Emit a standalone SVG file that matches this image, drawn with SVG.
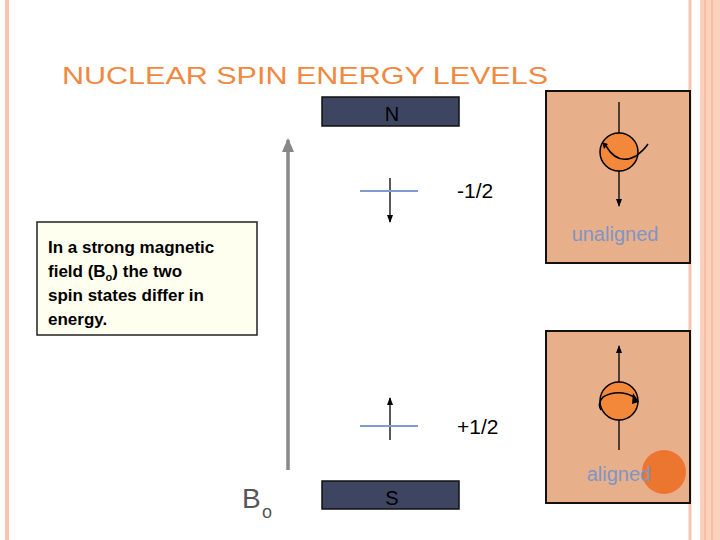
<svg xmlns="http://www.w3.org/2000/svg" width="720" height="540" viewBox="0 0 720 540">
<defs>
<marker id="ah" markerWidth="8" markerHeight="8" refX="7" refY="4" orient="auto" markerUnits="userSpaceOnUse"><path d="M0,1 L8,4 L0,7 Z" fill="#000"/></marker>
<marker id="ahg" markerWidth="14" markerHeight="14" refX="12" refY="7" orient="auto" markerUnits="userSpaceOnUse"><path d="M0,1 L14,7 L0,13 Z" fill="#888"/></marker>
</defs>
<style>
.f{font-family:"Liberation Sans",Arial,sans-serif}
.lvl{stroke:#7f9bd0;stroke-width:2}
.ar{stroke:#000;stroke-width:1.3;marker-end:url(#ah)}
.panel{fill:#e8b08a;stroke:#111;stroke-width:2}
.bar{fill:#3d4560;stroke:#111;stroke-width:1.5}
</style>
<rect width="720" height="540" fill="#fff"/>
<line x1="7" y1="0" x2="7" y2="540" stroke="#f9c3ad" stroke-width="4"/>
<line x1="690" y1="0" x2="690" y2="540" stroke="#f9c3ad" stroke-width="3"/>
<rect x="700" y="0" width="20" height="540" fill="#fbd0bd"/>
<line x1="705" y1="0" x2="705" y2="540" stroke="#f6a88a" stroke-width="1"/>
<line x1="712" y1="0" x2="712" y2="540" stroke="#f6a88a" stroke-width="1"/>
<text class="f" x="62" y="84" font-size="24" fill="#f0893f" textLength="486" lengthAdjust="spacingAndGlyphs">NUCLEAR SPIN ENERGY LEVELS</text>
<g id="connectors">
<line x1="288" y1="470" x2="288" y2="140" stroke="#888" stroke-width="3.5" marker-end="url(#ahg)"/>
<line class="ar" x1="390" y1="178" x2="390" y2="222"/>
<line class="ar" x1="390" y1="440" x2="390" y2="398"/>
</g>
<g id="N"><rect class="bar" x="322" y="97" width="137" height="29"/><text class="f" x="392" y="121" font-size="20" fill="#000" text-anchor="middle">N</text></g>
<g id="S"><rect class="bar" x="322" y="481" width="137" height="28"/><text class="f" x="392" y="505" font-size="20" fill="#000" text-anchor="middle">S</text></g>
<g id="minus"><line class="lvl" x1="360" y1="191" x2="418" y2="191"/><text class="f" x="457" y="198" font-size="21" fill="#000">-1/2</text></g>
<g id="plus"><line class="lvl" x1="360" y1="426" x2="418" y2="426"/><text class="f" x="457" y="434" font-size="21" fill="#000">+1/2</text></g>
<g id="B"><text class="f" x="242" y="508" font-size="28" fill="#555">B</text><text class="f" x="262" y="518" font-size="18" fill="#555">o</text></g>
<g id="note"><rect x="37" y="222" width="220" height="113" fill="#fffff0" stroke="#222" stroke-width="1.5"/>
<text class="f" font-size="17" font-weight="bold" fill="#000"><tspan x="48" y="253">In a strong magnetic</tspan><tspan x="48" y="277">field (B<tspan font-size="11" dy="4">o</tspan><tspan dy="-4">) the two</tspan></tspan><tspan x="48" y="301">spin states differ in</tspan><tspan x="48" y="325">energy.</tspan></text></g>
<g id="unaligned"><rect class="panel" x="546" y="91" width="144" height="172"/>
<line x1="619" y1="102" x2="619" y2="136" stroke="#000" stroke-width="1.3"/>
<line class="ar" x1="619" y1="170" x2="619" y2="206"/>
<circle cx="619" cy="152" r="19" fill="#f4883a" stroke="#000" stroke-width="1.5"/>
<path d="M606,146 Q618,166 636,156 Q644,150 648,144" fill="none" stroke="#000" stroke-width="1.5"/>
<path d="M602,142 L608,144 L604,149 Z" fill="#000"/>
<text class="f" x="615" y="241" font-size="20" fill="#7f95c8" text-anchor="middle">unaligned</text></g>
<g id="aligned"><rect class="panel" x="546" y="331" width="144" height="172"/>
<line class="ar" x1="619" y1="382" x2="619" y2="346"/>
<line x1="619" y1="420" x2="619" y2="450" stroke="#000" stroke-width="1.3"/>
<circle cx="619" cy="401" r="19" fill="#f4883a" stroke="#000" stroke-width="1.5"/>
<path d="M603,397 Q619,388 636,398 M603,397 Q597,404 601,410" fill="none" stroke="#000" stroke-width="1.5"/>
<path d="M633,393 L639,402 L632,404 Z" fill="#000"/>
<circle cx="664" cy="472" r="22" fill="#ec7530"/>
<text class="f" x="619" y="481" font-size="20" fill="#7f95c8" text-anchor="middle">aligned</text></g>
</svg>
